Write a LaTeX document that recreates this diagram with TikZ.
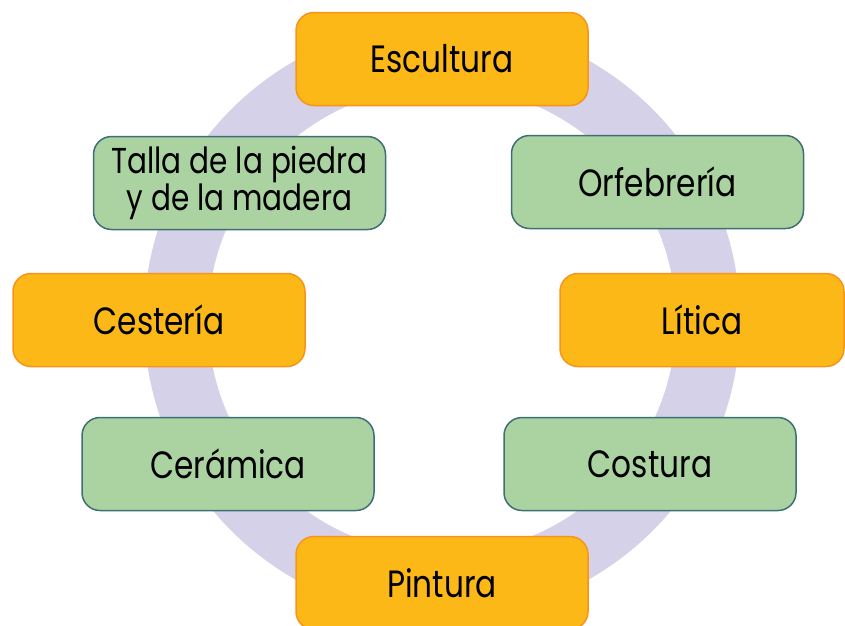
\documentclass[tikz,border=0pt]{standalone}
\usepackage{fontspec}
\setmainfont{Poppins}[FakeStretch=0.82]
\definecolor{ringc}{HTML}{D5D1E8}
\definecolor{orfill}{HTML}{FCB816}
\definecolor{ordraw}{HTML}{F7941D}
\definecolor{grfill}{HTML}{ABD3A1}
\definecolor{grdraw}{HTML}{3F6E74}
\begin{document}
\begin{tikzpicture}[x=1pt,y=-1pt,
  box/.style={rounded corners=18pt, minimum width=292pt, minimum height=93pt,
    inner sep=0pt, align=center, line width=1.5pt, text=black,
    font=\fontsize{38}{30}\selectfont},
  obox/.style={box, fill=orfill, draw=ordraw},
  gbox/.style={box, fill=grfill, draw=grdraw}]
\useasboundingbox (0,0) rectangle (845,625);
\fill[ringc, even odd rule] (442,320) circle[radius=298] (442,320) circle[radius=234];
\node[obox] (escultura) at (442,59) {Escultura};
\node[gbox, font=\fontsize{36}{31}\selectfont] (talla) at (239.5,183) {Talla de la piedra\\y de la madera};
\node[gbox] (orfebreria) at (657.5,182) {Orfebrería};
\node[obox] (cesteria) at (159,320) {Cestería};
\node[obox, minimum width=284pt] (litica) at (702,320) {Lítica};
\node[gbox] (ceramica) at (228,464) {Cerámica};
\node[gbox] (costura) at (650,464) {Costura};
\node[obox] (pintura) at (442,583) {Pintura};
\end{tikzpicture}
\end{document}
